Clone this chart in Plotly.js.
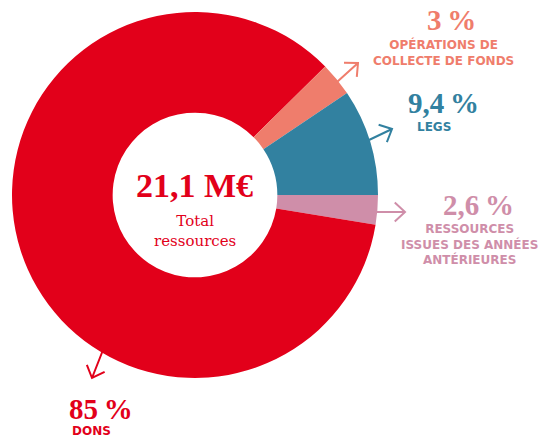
<!DOCTYPE html>
<html>
<head>
<meta charset="utf-8">
<script src="https://cdn.plot.ly/plotly-3.0.1.min.js"></script>
<style>html,body{margin:0;padding:0;background:#fff;}#chart{width:540px;height:437px;}</style>
</head>
<body>
<div id="chart"></div>
<script>
// Data
const categories = ["Ressources issues des années antérieures", "Dons", "Opérations de collecte de fonds", "Legs"];
const values = [2.6, 85, 3, 9.4];
const percentLabels = ["2,6\u2009%", "85\u2009%", "3\u2009%", "9,4\u2009%"];
const subLabels = ["RESSOURCES<br>ISSUES DES ANNÉES<br>ANTÉRIEURES", "DONS", "OPÉRATIONS DE<br>COLLECTE DE FONDS", "LEGS"];
const colors = ["#cf8ea9", "#e2001a", "#ef7d6c", "#3281a0"];
const totalLabel = "21,1 M€";
const totalSub = "Total<br>ressources";

const W = 540, H = 437;
const px = x => x / W;
const py = y => 1 - y / H;

// label placement (pixels): [pctX, pctY, subX, subY]
const labelPos = [
  [478, 205, 469, 244],
  [101, 409, 91, 431],
  [451, 20, 443, 52],
  [443, 103, 434, 127]
];
// arrows (pixels): tail -> head
const arrows = [
  [377, 212, 405, 212],
  [103, 350, 92, 378],
  [337, 82, 358, 63],
  [369, 140, 392, 129]
];

const annotations = [];
const shapes = [];
for (let i = 0; i < values.length; i++) {
  const p = labelPos[i];
  annotations.push({
    text: percentLabels[i], xref: 'paper', yref: 'paper', x: px(p[0]), y: py(p[1]),
    xanchor: 'center', yanchor: 'middle', showarrow: false,
    font: {family: 'Liberation Serif, DejaVu Serif, serif', size: 29, color: colors[i], weight: 'bold'}
  });
  annotations.push({
    text: subLabels[i], xref: 'paper', yref: 'paper', x: px(p[2]), y: py(p[3]),
    xanchor: 'center', yanchor: 'middle', showarrow: false,
    font: {family: 'DejaVu Sans, sans-serif', size: 12, color: colors[i], weight: 'bold'}
  });
  const a = arrows[i];
  const ang = Math.atan2(a[3] - a[1], a[2] - a[0]);
  const L = 14, spread = 0.75;
  const h1 = [a[2] - L * Math.cos(ang - spread), a[3] - L * Math.sin(ang - spread)];
  const h2 = [a[2] - L * Math.cos(ang + spread), a[3] - L * Math.sin(ang + spread)];
  const path = `M ${px(a[0])} ${py(a[1])} L ${px(a[2])} ${py(a[3])} M ${px(h1[0])} ${py(h1[1])} L ${px(a[2])} ${py(a[3])} L ${px(h2[0])} ${py(h2[1])}`;
  shapes.push({type: 'path', xref: 'paper', yref: 'paper', path: path, line: {color: colors[i], width: 2}});
}
annotations.push({
  text: totalLabel, xref: 'paper', yref: 'paper', x: px(194), y: py(185),
  xanchor: 'center', yanchor: 'middle', showarrow: false,
  font: {family: 'Liberation Serif, DejaVu Serif, serif', size: 34, color: '#e2001a', weight: 'bold'}
});
annotations.push({
  text: totalSub, xref: 'paper', yref: 'paper', x: px(195), y: py(231),
  xanchor: 'center', yanchor: 'middle', showarrow: false,
  font: {family: 'DejaVu Serif, serif', size: 15, color: '#e2001a'}
});

const data = [{
  type: 'pie',
  labels: categories,
  values: values,
  marker: {colors: colors, line: {width: 0}},
  hole: 0.45,
  sort: false,
  direction: 'clockwise',
  rotation: 90,
  textinfo: 'none',
  hoverinfo: 'label+percent',
  domain: {x: [px(12), px(378)], y: [py(378), py(12)]}
}];

const layout = {
  width: W, height: H,
  margin: {l: 0, r: 0, t: 0, b: 0},
  showlegend: false,
  paper_bgcolor: '#ffffff',
  annotations: annotations,
  shapes: shapes
};

Plotly.newPlot('chart', data, layout, {displayModeBar: false, staticPlot: true});
</script>
</body>
</html>
